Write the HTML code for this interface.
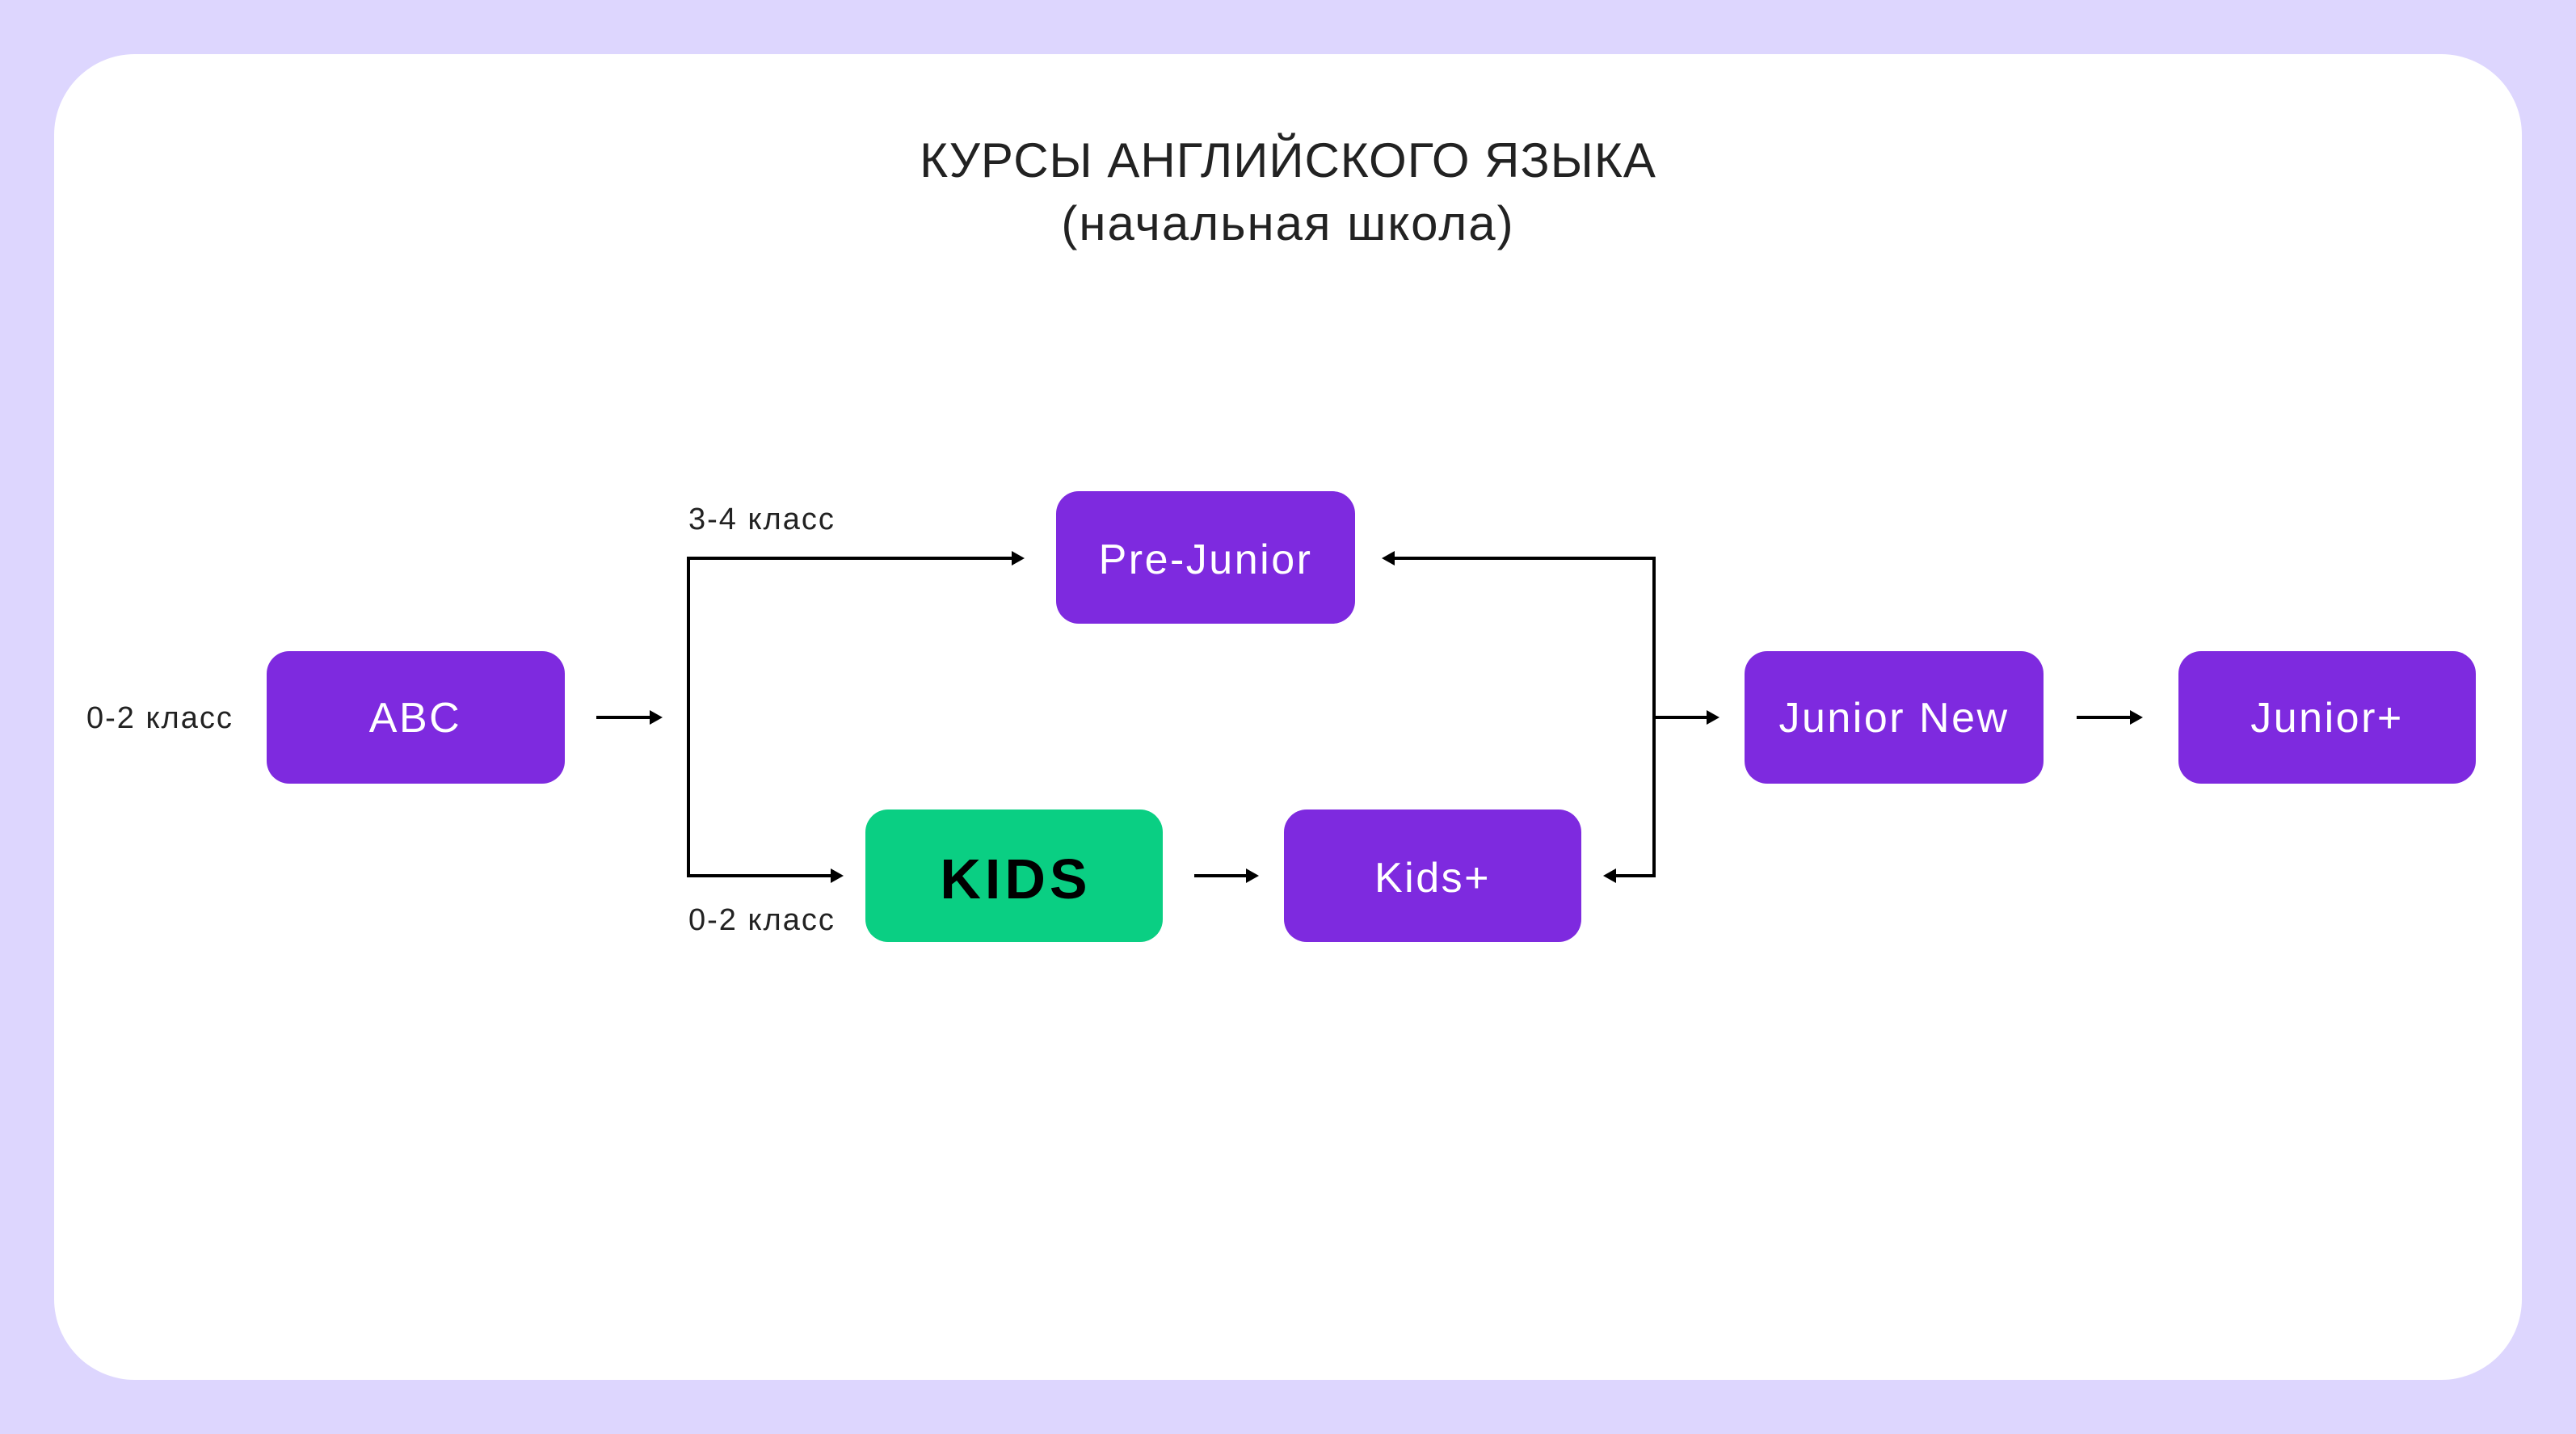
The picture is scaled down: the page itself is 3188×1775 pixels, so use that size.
<!DOCTYPE html>
<html><head><meta charset="utf-8"><style>
html,body{margin:0;padding:0;background:#DDD6FE;}
svg{display:block}
text{font-family:"Liberation Sans","DejaVu Sans",sans-serif;}
</style></head><body>
<svg width="3188" height="1775" viewBox="0 0 3188 1775" xmlns="http://www.w3.org/2000/svg">
<rect x="0" y="0" width="3188" height="1775" fill="#DDD6FE"/>
<rect x="67" y="67" width="3054" height="1641" rx="100" fill="#fff"/>
<text x="1594" y="219" text-anchor="middle" font-size="60" letter-spacing="1" fill="#222">КУРСЫ АНГЛИЙСКОГО ЯЗЫКА</text>
<text x="1594" y="297" text-anchor="middle" font-size="60" letter-spacing="2" fill="#222">(начальная школа)</text>

<g fill="#7E2ADF">
<rect x="330" y="806" width="369" height="164" rx="28"/>
<rect x="1307" y="608" width="370" height="164" rx="28"/>
<rect x="1589" y="1002" width="368" height="164" rx="28"/>
<rect x="2159" y="806" width="370" height="164" rx="28"/>
<rect x="2696" y="806" width="368" height="164" rx="28"/>
</g>
<rect x="1071" y="1002" width="368" height="164" rx="28" fill="#0ACF83"/>

<g fill="#fff" font-size="52" letter-spacing="2.5" text-anchor="middle">
<text x="514" y="906">ABC</text>
<text x="1492" y="710">Pre-Junior</text>
<text x="1773" y="1104">Kids+</text>
<text x="2344" y="906">Junior New</text>
<text x="2880" y="906">Junior+</text>
</g>
<text x="1257" y="1112" text-anchor="middle" font-size="70" letter-spacing="5" font-weight="bold" fill="#000">KIDS</text>

<g font-size="38" letter-spacing="2" fill="#222">
<text x="107" y="901">0-2 класс</text>
<text x="852" y="655">3-4 класс</text>
<text x="852" y="1151">0-2 класс</text>
</g>

<g stroke="#000" stroke-width="4" fill="none">
<line x1="738" y1="888" x2="805" y2="888"/>
<polyline points="1252,691 852,691 852,1084 1028,1084"/>
<line x1="1478" y1="1084" x2="1542" y2="1084"/>
<polyline points="1726,691 2047,691 2047,1084 2000,1084"/>
<line x1="2047" y1="888" x2="2112" y2="888"/>
<line x1="2570" y1="888" x2="2636" y2="888"/>
</g>
<g fill="#000">
<path d="M820,888 l-16,-9 v18 z"/>
<path d="M1268,691 l-16,-9 v18 z"/>
<path d="M1044,1084 l-16,-9 v18 z"/>
<path d="M1558,1084 l-16,-9 v18 z"/>
<path d="M2128,888 l-16,-9 v18 z"/>
<path d="M2652,888 l-16,-9 v18 z"/>
<path d="M1710,691 l16,-9 v18 z"/>
<path d="M1984,1084 l16,-9 v18 z"/>
</g>
</svg>
</body></html>
